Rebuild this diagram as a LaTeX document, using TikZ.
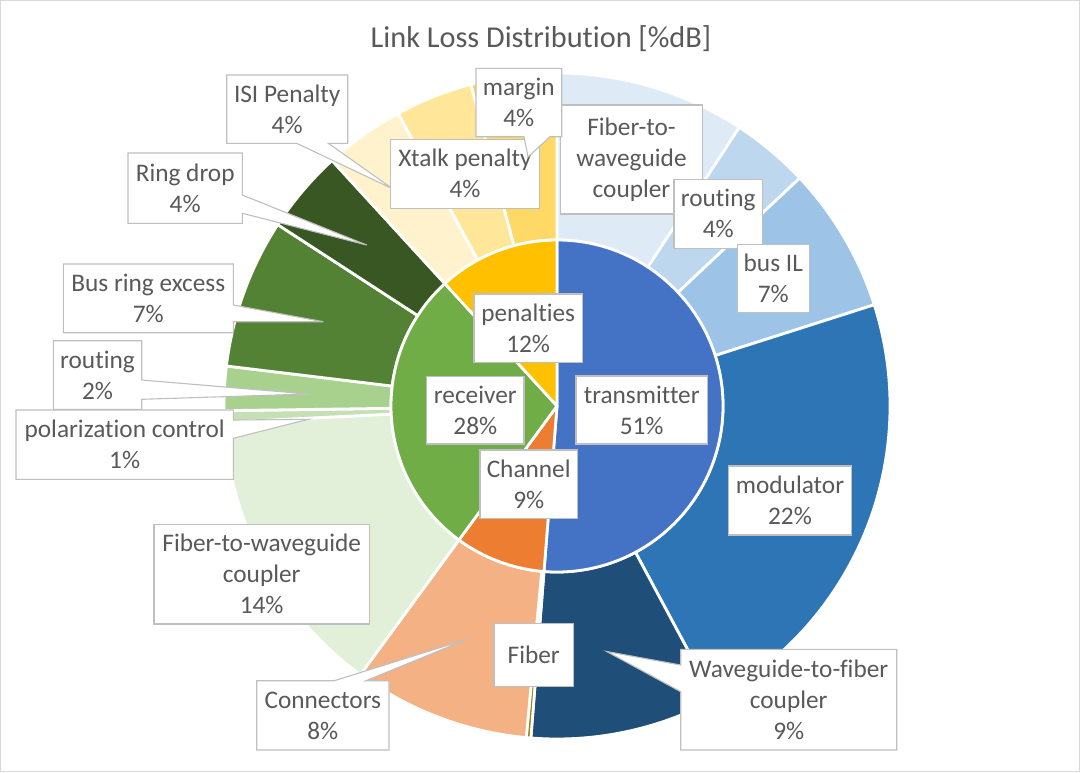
\documentclass[tikz,border=0pt]{standalone}
\usepackage{fontspec}
\setmainfont{Carlito}[Ligatures=NoCommon]
\definecolor{txtc}{HTML}{595959}
\definecolor{boxc}{HTML}{BFBFBF}
\definecolor{framec}{HTML}{D9D9D9}
\definecolor{cTx}{HTML}{4472C4}
\definecolor{cCh}{HTML}{ED7D31}
\definecolor{cRx}{HTML}{70AD47}
\definecolor{cPe}{HTML}{FFC000}
\definecolor{cTxA}{HTML}{DEEBF7}
\definecolor{cTxB}{HTML}{BDD7EE}
\definecolor{cTxC}{HTML}{9DC3E6}
\definecolor{cTxD}{HTML}{2E75B6}
\definecolor{cTxE}{HTML}{1F4E79}
\definecolor{cChA}{HTML}{A17D0A}
\definecolor{cChB}{HTML}{F4B183}
\definecolor{cRxA}{HTML}{E2F0D9}
\definecolor{cRxB}{HTML}{C5E0B4}
\definecolor{cRxC}{HTML}{A9D18E}
\definecolor{cRxD}{HTML}{548235}
\definecolor{cRxE}{HTML}{385723}
\definecolor{cPeA}{HTML}{FFF2CC}
\definecolor{cPeB}{HTML}{FFE699}
\definecolor{cPeC}{HTML}{FFD966}
\newcommand\ringseg[5]{\filldraw[seg,fill=#1] ({#2-90}:#4) arc[start angle={#2-90},end angle={#3-90},radius=#4] -- ({#3-90}:#5) arc[start angle={#3-90},end angle={#2-90},radius=#5] -- cycle;}
\newcommand\pieseg[3]{\filldraw[seg,fill=#1] (0,0) -- ({#2-90}:166) arc[start angle={#2-90},end angle={#3-90},radius=166] -- cycle;}
\begin{document}
\begin{tikzpicture}[x=1pt,y=-1pt,
  lbl/.style={text=txtc, align=center, font=\fontsize{25.3}{31}\selectfont, inner sep=0pt},
  callbox/.style={fill=white, draw=boxc, line width=1.1pt, line join=miter},
  seg/.style={draw=white, line width=2.8pt, line join=round}]
\useasboundingbox (0,0) rectangle (1080,772);
\draw[framec, line width=1pt] (0.5,0.5) rectangle (1079.5,771.5);
\node[lbl, anchor=base, font=\fontsize{30.3}{36}\selectfont] (title) at (541,47.3) {Link Loss Distribution [\%dB]};
\begin{scope}[shift={(557,406)}]
% outer ring
\ringseg{cTxA}{0}{33.2}{166}{333}
\ringseg{cTxB}{33.2}{46.8}{166}{333}
\ringseg{cTxC}{46.8}{72.3}{166}{333}
\ringseg{cTxD}{72.3}{151.8}{166}{333}
\ringseg{cTxE}{151.8}{184.5}{166}{333}
\ringseg{cChA}{184.5}{185.3}{166}{333}
\ringseg{cChB}{185.3}{216.2}{166}{333}
\ringseg{cRxA}{216.2}{267.2}{166}{333}
\ringseg{cRxB}{267.2}{269.2}{166}{333}
\ringseg{cRxC}{269.2}{276.9}{166}{333}
\ringseg{cRxD}{276.9}{303}{166}{333}
\ringseg{cRxE}{303}{317.5}{166}{333}
\ringseg{cPeA}{317.5}{331.5}{166}{333}
\ringseg{cPeB}{331.5}{345}{166}{333}
\ringseg{cPeC}{345}{360}{166}{333}
% inner pie
\pieseg{cTx}{0}{184.5}
\pieseg{cCh}{184.5}{216.2}
\pieseg{cRx}{216.2}{317.5}
\pieseg{cPe}{317.5}{360}
\end{scope}
% callouts
\draw[callbox] (226.7,75) -- (347.7,75) -- (347.7,143.3) -- (328.3,143.3) -- (393,189) -- (296.7,143.3) -- (226.7,143.3) -- cycle;
\node[lbl] (isi) at (287.2,109.2) {ISI Penalty\\4\%};
\draw[callbox] (128,153) -- (242.3,153) -- (242.3,195) -- (366.7,245) -- (242.3,213.3) -- (242.3,223.3) -- (128,223.3) -- cycle;
\node[lbl] (ringdrop) at (185.2,188.2) {Ring drop\\4\%};
\draw[callbox] (63.3,264) -- (233.3,264) -- (233.3,305) -- (323.3,321.7) -- (233.3,321.7) -- (233.3,332.7) -- (63.3,332.7) -- cycle;
\node[lbl] (busring) at (148.3,298.4) {Bus ring excess\\7\%};
\draw[callbox] (53.3,340.7) -- (141.7,340.7) -- (141.7,380) -- (308.3,394) -- (141.7,399.3) -- (141.7,409.3) -- (53.3,409.3) -- cycle;
\node[lbl] (routingrx) at (97.5,375) {routing\\2\%};
\draw[callbox] (16,410) -- (233.3,410) -- (233.3,420) -- (308.3,419.3) -- (233.3,438.3) -- (233.3,479.3) -- (16,479.3) -- cycle;
\node[lbl] (polar) at (124.7,444.7) {polarization control\\1\%};
\draw[callbox] (154,524.3) rectangle (369.3,624);
\node[lbl] (ftwrx) at (261.7,574.2) {Fiber-to-waveguide\\coupler\\14\%};
\draw[callbox] (256.7,680.7) -- (334.3,680.7) -- (467.7,639) -- (366,680.7) -- (389,680.7) -- (389,750) -- (256.7,750) -- cycle;
\node[lbl] (conn) at (322.8,715.4) {Connectors\\8\%};
\draw[callbox] (494,623.3) rectangle (573.3,686.7);
\node[lbl] (fiber) at (533.7,655) {Fiber};
\draw[callbox] (680.7,649.3) -- (896.7,649.3) -- (896.7,750) -- (680.7,750) -- (680.7,691.7) -- (606.7,651.5) -- (680.7,665) -- cycle;
\node[lbl] (wtf) at (788.7,699.7) {Waveguide-to-fiber\\coupler\\9\%};
\draw[callbox] (728.3,466) rectangle (851.7,535);
\node[lbl] (mod) at (790,500.5) {modulator\\22\%};
\draw[callbox] (560.7,105) rectangle (702.3,214);
\node[lbl] (ftwtx) at (631.5,159.5) {Fiber-to-\\waveguide\\coupler};
\draw[callbox] (674,179.3) rectangle (762.3,248.3);
\node[lbl] (routingtx) at (718.2,213.8) {routing\\4\%};
\draw[callbox] (737.3,244.3) rectangle (809.3,312.3);
\node[lbl] (busil) at (773.3,278.3) {bus IL\\7\%};
\draw[callbox] (390.7,139.3) rectangle (539.3,208.3);
\node[lbl] (xtalk) at (465,173.8) {Xtalk penalty\\4\%};
\draw[callbox] (476,68.3) -- (561.7,68.3) -- (561.7,136.7) -- (550,136.7) -- (528,157) -- (524,136.7) -- (476,136.7) -- cycle;
\node[lbl] (margin) at (518.8,102.5) {margin\\4\%};
\draw[callbox] (474,294) rectangle (582.3,362.3);
\node[lbl] (pen) at (528.2,328.2) {penalties\\12\%};
\draw[callbox] (426.7,376.7) rectangle (524,444);
\node[lbl] (rx) at (475.3,410.3) {receiver\\28\%};
\draw[callbox] (576,376) rectangle (707.3,444);
\node[lbl] (tx) at (641.7,410) {transmitter\\51\%};
\draw[callbox] (480,450) rectangle (577.3,518.3);
\node[lbl] (ch) at (528.7,484.2) {Channel\\9\%};
\end{tikzpicture}
\end{document}
